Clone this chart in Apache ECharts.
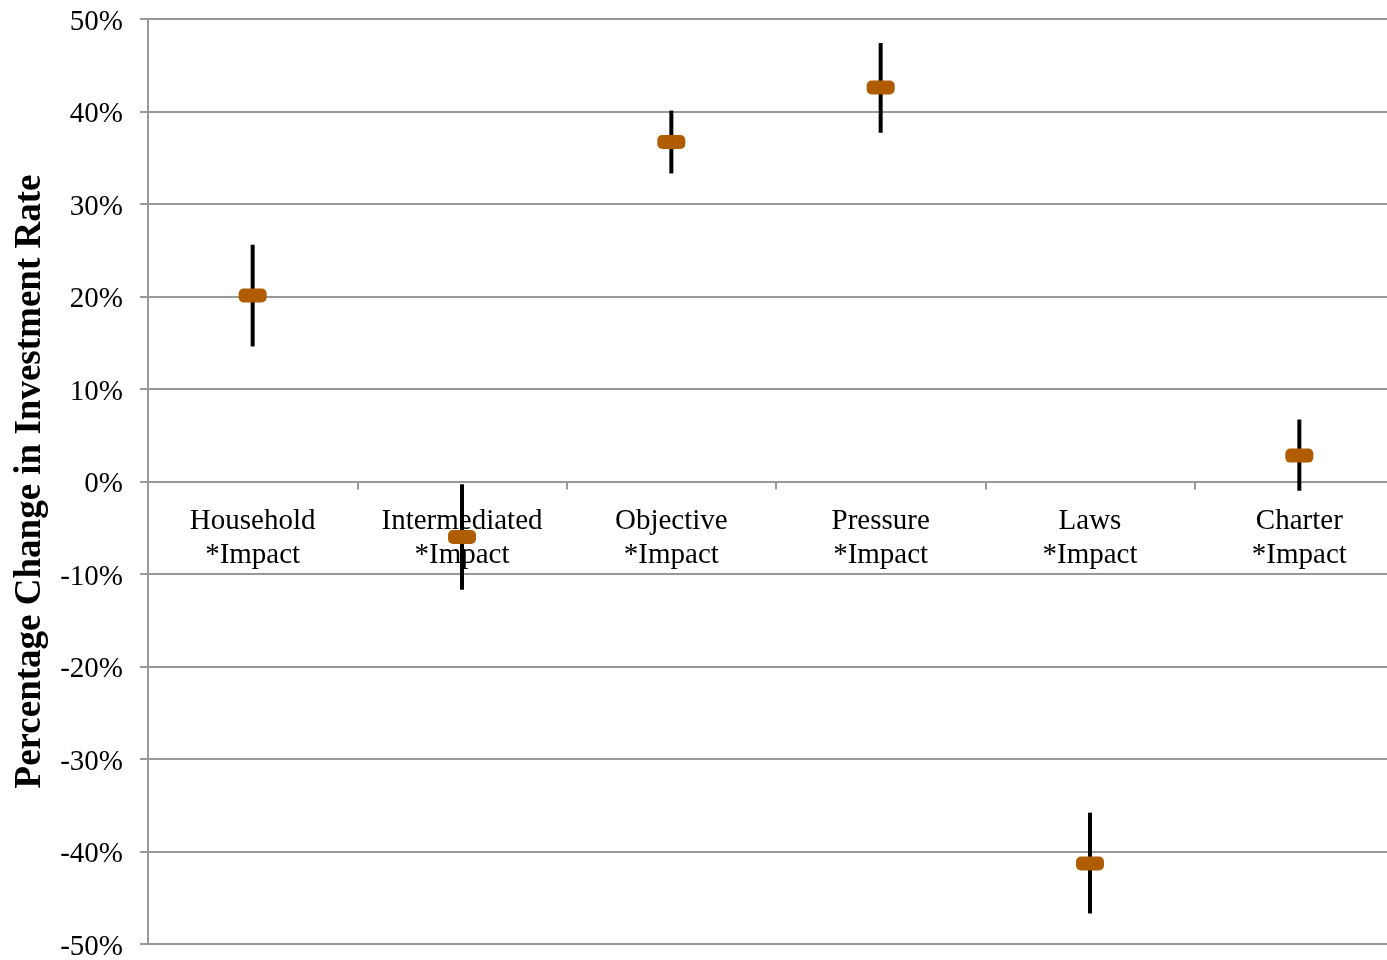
<!DOCTYPE html>
<html>
<head>
<meta charset="utf-8">
<script src="https://cdn.jsdelivr.net/npm/echarts@6/dist/echarts.min.js"></script>
<style>
html,body{margin:0;padding:0;background:#fff;}
#chart{width:1387px;height:960px;}
</style>
</head>
<body>
<div id="chart"></div>
<script>
var categories = ['Household\n*Impact', 'Intermediated\n*Impact', 'Objective\n*Impact', 'Pressure\n*Impact', 'Laws\n*Impact', 'Charter\n*Impact'];
var estimates = [20.1, -6.0, 36.7, 42.6, -41.3, 2.8];
var upper = [25.6, -0.3, 40.1, 47.4, -35.8, 6.7];
var lower = [14.6, -11.7, 33.3, 37.7, -46.7, -1.0];

var FONT = '"Liberation Serif", "Times New Roman", serif';
var chart = echarts.init(document.getElementById('chart'));

var errData = categories.map(function (c, i) { return [i, lower[i], upper[i]]; });
var ptData = categories.map(function (c, i) { return [i, estimates[i]]; });
var lblData = categories.map(function (c, i) { return [i, 0]; });

chart.setOption({
  animation: false,
  backgroundColor: '#fff',
  grid: { left: 148, right: -17, top: 19, bottom: 16, containLabel: false, outerBoundsMode: 'none' },
  xAxis: {
    type: 'category',
    data: categories,
    axisLine: { onZero: true, lineStyle: { color: '#999', width: 2 } },
    axisTick: { show: true, alignWithLabel: false, length: 8, lineStyle: { color: '#999', width: 2 } },
    axisLabel: { show: false },
    splitLine: { show: false }
  },
  yAxis: {
    type: 'value',
    min: -50, max: 50, interval: 10,
    name: 'Percentage Change in Investment Rate',
    nameLocation: 'middle',
    nameGap: 94,
    nameRotate: 90,
    nameTextStyle: { color: '#000', fontFamily: FONT, fontSize: 37, fontWeight: 'bold' },
    axisLine: { show: true, lineStyle: { color: '#999', width: 2 } },
    axisTick: { show: true, length: 8, lineStyle: { color: '#999', width: 2 } },
    axisLabel: {
      color: '#000', fontFamily: FONT, fontSize: 29, margin: 25,
      formatter: function (v) { return '{a|' + v + '%}'; },
      rich: { a: { color: '#000', fontFamily: FONT, fontSize: 29, padding: [6, 0, 0, 0] } }
    },
    splitLine: { show: true, lineStyle: { color: '#999', width: 2 } }
  },
  series: [
    {
      type: 'custom',
      data: lblData,
      z: 1,
      silent: true,
      renderItem: function (params, api) {
        var i = api.value(0);
        var p = api.coord([i, api.value(1)]);
        return {
          type: 'text',
          x: p[0], y: p[1] + 23,
          style: {
            text: categories[i],
            fill: '#000',
            font: '29px ' + FONT,
            lineHeight: 34,
            align: 'center',
            verticalAlign: 'top'
          }
        };
      }
    },
    {
      type: 'custom',
      data: errData,
      z: 3,
      renderItem: function (params, api) {
        var x = api.value(0);
        var lo = api.coord([x, api.value(1)]);
        var hi = api.coord([x, api.value(2)]);
        return {
          type: 'line',
          shape: { x1: lo[0], y1: lo[1], x2: hi[0], y2: hi[1] },
          style: { stroke: '#000', lineWidth: 4 }
        };
      }
    },
    {
      type: 'custom',
      data: ptData,
      z: 4,
      renderItem: function (params, api) {
        var p = api.coord([api.value(0), api.value(1)]);
        return {
          type: 'rect',
          shape: { x: p[0] - 14, y: p[1] - 7, width: 28, height: 14, r: 5 },
          style: { fill: '#B05C00' }
        };
      }
    }
  ]
});
</script>
</body>
</html>
